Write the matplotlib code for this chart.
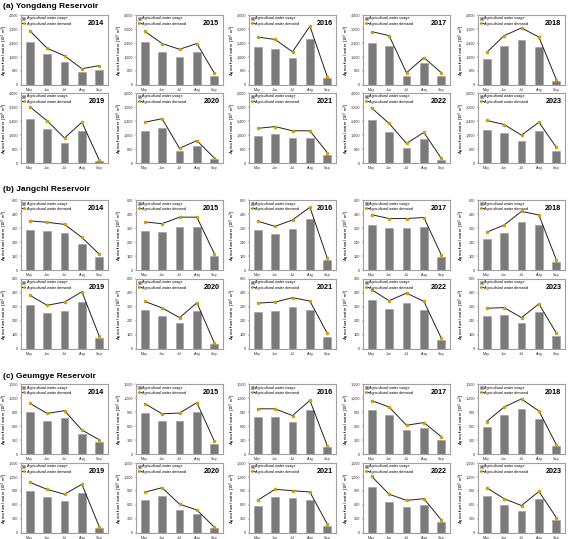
import matplotlib
matplotlib.use('Agg')
import matplotlib.pyplot as plt
import numpy as np
from matplotlib.ticker import FuncFormatter

plt.rcParams['font.family'] = ['Liberation Sans', 'DejaVu Sans']

months = ['May', 'Jun', 'Jul', 'Aug', 'Sep']
years_row1 = [2014, 2015, 2016, 2017, 2018]
years_row2 = [2019, 2020, 2021, 2022, 2023]

# (a) Yongdang reservoir
yongdang_usage = {
    2014: [2450, 1750, 1340, 760, 870],
    2015: [2430, 1860, 1610, 1860, 520],
    2016: [2150, 2060, 1520, 2640, 390],
    2017: [2410, 2210, 520, 1240, 520],
    2018: [1460, 2210, 2560, 2150, 250],
    2019: [2530, 1920, 1160, 1820, 120],
    2020: [1840, 1980, 670, 1000, 220],
    2021: [1550, 1630, 1450, 1450, 450],
    2022: [2470, 1780, 880, 1370, 200],
    2023: [1900, 1710, 1240, 1840, 710],
}
yongdang_demand = {
    2014: [3110, 2100, 1670, 930, 1110],
    2015: [3070, 2370, 2040, 2370, 680],
    2016: [2740, 2600, 1900, 3360, 470],
    2017: [3050, 2820, 700, 1570, 700],
    2018: [1860, 2820, 3260, 2740, 310],
    2019: [3220, 2410, 1430, 2330, 160],
    2020: [2330, 2530, 840, 1280, 280],
    2021: [1980, 2080, 1840, 1840, 590],
    2022: [3140, 2260, 1120, 1750, 260],
    2023: [2430, 2200, 1590, 2330, 900],
}

# (b) Jangchi reservoir
jangchi_usage = {
    2014: [347, 335, 318, 226, 112],
    2015: [335, 324, 368, 368, 118],
    2016: [344, 306, 350, 440, 82],
    2017: [388, 362, 359, 365, 109],
    2018: [268, 318, 409, 385, 71],
    2019: [378, 307, 325, 402, 92],
    2020: [331, 287, 222, 322, 41],
    2021: [319, 326, 358, 337, 106],
    2022: [417, 340, 393, 334, 80],
    2023: [284, 290, 219, 316, 112],
}
jangchi_demand = {
    2014: [421, 409, 391, 279, 135],
    2015: [412, 397, 453, 453, 141],
    2016: [418, 374, 429, 538, 102],
    2017: [474, 441, 441, 450, 129],
    2018: [324, 385, 503, 471, 88],
    2019: [461, 375, 402, 491, 109],
    2020: [408, 352, 269, 396, 53],
    2021: [393, 402, 440, 411, 133],
    2022: [508, 414, 479, 408, 92],
    2023: [349, 355, 269, 387, 136],
}

# (c) Geumgye reservoir
geumgye_usage = {
    2014: [899, 717, 761, 428, 261],
    2015: [884, 710, 717, 899, 225],
    2016: [786, 794, 677, 947, 153],
    2017: [935, 826, 507, 558, 304],
    2018: [580, 826, 971, 754, 174],
    2019: [890, 765, 676, 853, 110],
    2020: [713, 787, 500, 412, 103],
    2021: [571, 768, 746, 710, 146],
    2022: [985, 669, 566, 603, 228],
    2023: [794, 596, 478, 728, 272],
}
geumgye_demand = {
    2014: [1087, 870, 928, 514, 304],
    2015: [1080, 862, 877, 1101, 275],
    2016: [968, 968, 823, 1150, 175],
    2017: [1145, 1007, 616, 674, 370],
    2018: [696, 1007, 1181, 920, 203],
    2019: [1088, 934, 831, 1044, 132],
    2020: [875, 971, 618, 493, 125],
    2021: [702, 937, 907, 878, 190],
    2022: [1213, 831, 699, 735, 279],
    2023: [971, 735, 588, 890, 331],
}

# title, usage, demand, ymax, ystep, title y (px), row tops (px)
sections = [
    ('(a) Yongdang Reservoir', yongdang_usage, yongdang_demand, 4000, 800, 6, [15, 93]),
    ('(b) Jangchi Reservoir', jangchi_usage, jangchi_demand, 600, 120, 190, [200, 279]),
    ('(c) Geumgye Reservoir', geumgye_usage, geumgye_demand, 1500, 300, 376, [384, 463]),
]

W, H = 570, 539
fig = plt.figure(figsize=(W / 100, H / 100), dpi=100)
lefts = [21, 136, 249, 363, 478]
aw, ah = 87, 70

fmt = FuncFormatter(lambda v, p: f'{int(v):,}')
x = np.arange(len(months))

for title, usage, demand, ymax, ystep, ty, tops in sections:
    fig.text(3 / W, 1 - ty / H, title, fontsize=6, fontweight='bold', va='center', ha='left')
    for r, years in enumerate([years_row1, years_row2]):
        for c, yr in enumerate(years):
            ax = fig.add_axes([lefts[c] / W, 1 - (tops[r] + ah) / H, aw / W, ah / H])
            bars = ax.bar(x, usage[yr], width=0.45, color='#7a7a7a', edgecolor='#9a9a9a',
                          linewidth=0.4, zorder=2)
            line, = ax.plot(x, demand[yr], color='#222222', lw=0.7, marker='o', markersize=2.2,
                            markerfacecolor='#e0a400', markeredgecolor='#b88600',
                            markeredgewidth=0.3, zorder=3)
            ax.set_xlim(-0.5, 4.5)
            ax.set_ylim(0, ymax)
            ax.set_yticks(np.arange(0, ymax + ystep / 2, ystep))
            ax.yaxis.set_major_formatter(fmt)
            ax.set_xticks(x)
            ax.set_xticklabels(months)
            ax.tick_params(labelsize=2.7, length=1, width=0.3, pad=1, colors='#333333')
            for s in ax.spines.values():
                s.set_color('#a0a0a0')
                s.set_linewidth(0.8)
            ax.set_ylabel(r'Agricultural water [10$^3$ m$^3$]', fontsize=3.1)
            ax.yaxis.set_label_coords(-0.125, 0.5)
            ax.text(0.96, 0.93, str(yr), transform=ax.transAxes, ha='right', va='top',
                    fontsize=5.2, fontweight='bold')
            ax.legend([bars, line], ['Agricultural water usage', 'Agricultural water demand'],
                      loc='upper left', fontsize=2.7, frameon=False, handlelength=0.8,
                      handletextpad=0.4, borderaxespad=0.2, labelspacing=0.3,
                      markerscale=0.8, borderpad=0.2)

fig.savefig('out.png', dpi=100)
